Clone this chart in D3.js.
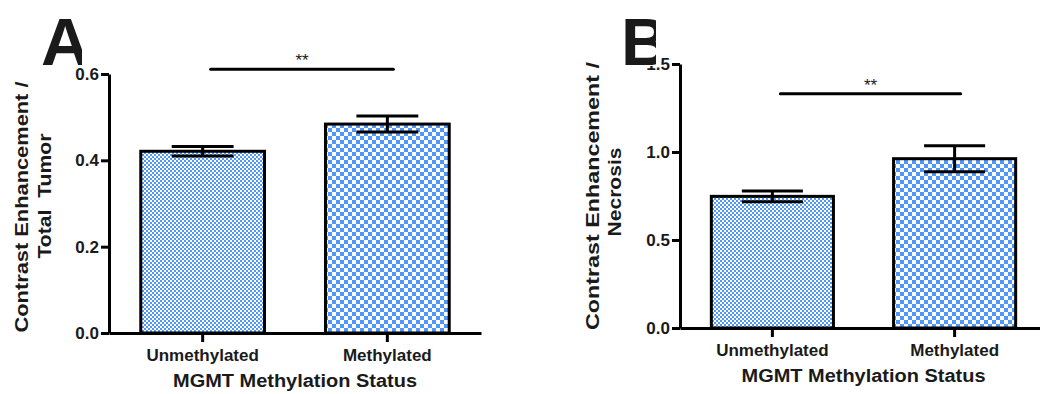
<!DOCTYPE html>
<html>
<head>
<meta charset="utf-8">
<script src="https://cdn.jsdelivr.net/npm/d3@7"></script>
<style>
  body { margin: 0; background: #fff; }
  text { font-family: "Liberation Sans", Arial, sans-serif; font-weight: bold; fill: #1a1a1a; white-space: pre; }
</style>
</head>
<body>
<svg id="chart" width="1040" height="394"></svg>
<script>
// data
var categories = ["Unmethylated", "Methylated"];
var meanA = [0.421, 0.484];
var semA = [0.011, 0.0185];
var meanB = [0.748, 0.962];
var semB = [0.031, 0.074];
var ticksA = [0.0, 0.2, 0.4, 0.6];
var ticksB = [0.0, 0.5, 1.0, 1.5];
var sigA = 0.611, sigB = 1.331;
var sigLabel = "**";
var xTitle = "MGMT Methylation Status";

var svg = d3.select('#chart');
var blue = '#5097fa';

// checker fills: fine for first bar, coarse for second
var defs = svg.append('defs');
function checker(id, c) {
    var p = defs.append('pattern').attr('id', id).attr('patternUnits', 'userSpaceOnUse')
        .attr('width', c * 2).attr('height', c * 2);
    p.append('rect').attr('width', c * 2).attr('height', c * 2).attr('fill', '#fff');
    p.append('rect').attr('width', c).attr('height', c).attr('fill', blue);
    p.append('rect').attr('x', c).attr('y', c).attr('width', c).attr('height', c).attr('fill', blue);
}
checker('fine', 2);
checker('coarse', 4);
var fills = ['url(#fine)', 'url(#coarse)'];

function panel(o) {
    var g = svg.append('g');
    var x = d3.scaleBand().domain(categories).range(o.xr).paddingInner(0.33).paddingOuter(0.172);
    var y = d3.scaleLinear().domain([0, o.ticks[o.ticks.length - 1]]).range(o.yr);

    var yAxis = g.append('g').attr('transform', 'translate(' + o.xr[0] + ',0)')
        .call(d3.axisLeft(y).tickValues(o.ticks).tickFormat(d3.format('.1f')).tickSize(8).tickSizeOuter(0).tickPadding(2));
    var xAxis = g.append('g').attr('transform', 'translate(0,' + o.yr[0] + ')')
        .call(d3.axisBottom(x).tickSize(9).tickSizeOuter(0).tickPadding(7));
    g.selectAll('.domain, .tick line').attr('stroke', '#000').attr('stroke-width', 3);
    yAxis.selectAll('text').style('font-size', '17px').style('font-family', '"Liberation Sans", Arial').attr('font-weight', 'bold');
    xAxis.selectAll('text').style('font-size', '17px').style('font-family', '"Liberation Sans", Arial').attr('font-weight', 'bold');
    g.selectAll('.tick text').attr('fill', '#1a1a1a');

    g.selectAll('rect.bar').data(o.mean).enter().append('rect')
        .attr('class', 'bar')
        .attr('x', function (d, i) { return x(categories[i]); })
        .attr('y', function (d) { return y(d); })
        .attr('width', x.bandwidth())
        .attr('height', function (d) { return y(0) - y(d); })
        .attr('fill', function (d, i) { return fills[i]; })
        .attr('stroke', '#000').attr('stroke-width', 3);

    var cap = x.bandwidth() * 0.25;
    o.mean.forEach(function (m, i) {
        var cx = x(categories[i]) + x.bandwidth() / 2;
        var lo = y(m - o.sem[i]), hi = y(m + o.sem[i]);
        g.append('line').attr('x1', cx).attr('x2', cx).attr('y1', lo).attr('y2', hi);
        g.append('line').attr('x1', cx - cap).attr('x2', cx + cap).attr('y1', hi).attr('y2', hi);
        g.append('line').attr('x1', cx - cap).attr('x2', cx + cap).attr('y1', lo).attr('y2', lo);
    });
    g.selectAll('line:not(.tick line)').attr('stroke', '#000').attr('stroke-width', 3);

    // significance bar
    var c0 = x(categories[0]) + x.bandwidth() / 2 + 8, c1 = x(categories[1]) + x.bandwidth() / 2 + 6;
    g.append('line').attr('x1', c0).attr('x2', c1).attr('y1', y(o.sig)).attr('y2', y(o.sig))
        .attr('stroke', '#000').attr('stroke-width', 3).attr('stroke-linecap', 'round');
    g.append('text').attr('x', (c0 + c1) / 2).attr('y', y(o.sig) - 3).attr('text-anchor', 'middle')
        .style('font-size', '17px').style('font-weight', 'normal').attr('fill', '#333').text(sigLabel);

    // axis titles
    g.append('text').attr('x', (o.xr[0] + o.xr[1]) / 2).attr('y', o.yr[0] + 54).attr('text-anchor', 'middle')
        .style('font-size', '18px').attr('textLength', 244).attr('lengthAdjust', 'spacingAndGlyphs').text(xTitle);
    o.ylab.forEach(function (l) {
        g.append('text').attr('transform', 'translate(' + l.x + ',' + l.c + ') rotate(-90)')
            .attr('text-anchor', 'middle').attr('dy', '0.36em').style('font-size', '18px')
            .attr('textLength', l.len).attr('lengthAdjust', 'spacingAndGlyphs').text(l.t);
    });

    // panel letter in its white box
    var clipId = 'clip' + o.letter;
    defs.append('clipPath').attr('id', clipId).append('rect')
        .attr('x', o.lx - 6).attr('y', 8).attr('width', o.lclip - o.lx + 6).attr('height', 62);
    g.append('rect').attr('x', o.lx - 6).attr('y', 8).attr('width', o.lclip - o.lx + 6).attr('height', 58).attr('fill', '#fff');
    g.append('text').attr('x', o.lx - 2).attr('y', 65).attr('clip-path', 'url(#' + clipId + ')')
        .style('font-size', '67px').attr('fill', '#000').text(o.letter);
}

panel({ letter: 'A', lx: 43, lclip: 82, xr: [109, 481], yr: [333, 74], ticks: ticksA,
    mean: meanA, sem: semA, sig: sigA,
    ylab: [{ t: 'Contrast Enhancement /', x: 22, c: 207, len: 251 },
           { t: 'Total  Tumor', x: 45, c: 196, len: 125 }] });
panel({ letter: 'B', lx: 623, lclip: 656, xr: [680, 1047], yr: [328, 64], ticks: ticksB,
    mean: meanB, sem: semB, sig: sigB,
    ylab: [{ t: 'Contrast Enhancement /', x: 593, c: 196, len: 268 },
           { t: 'Necrosis', x: 615, c: 192, len: 89 }] });
</script>
</body>
</html>
